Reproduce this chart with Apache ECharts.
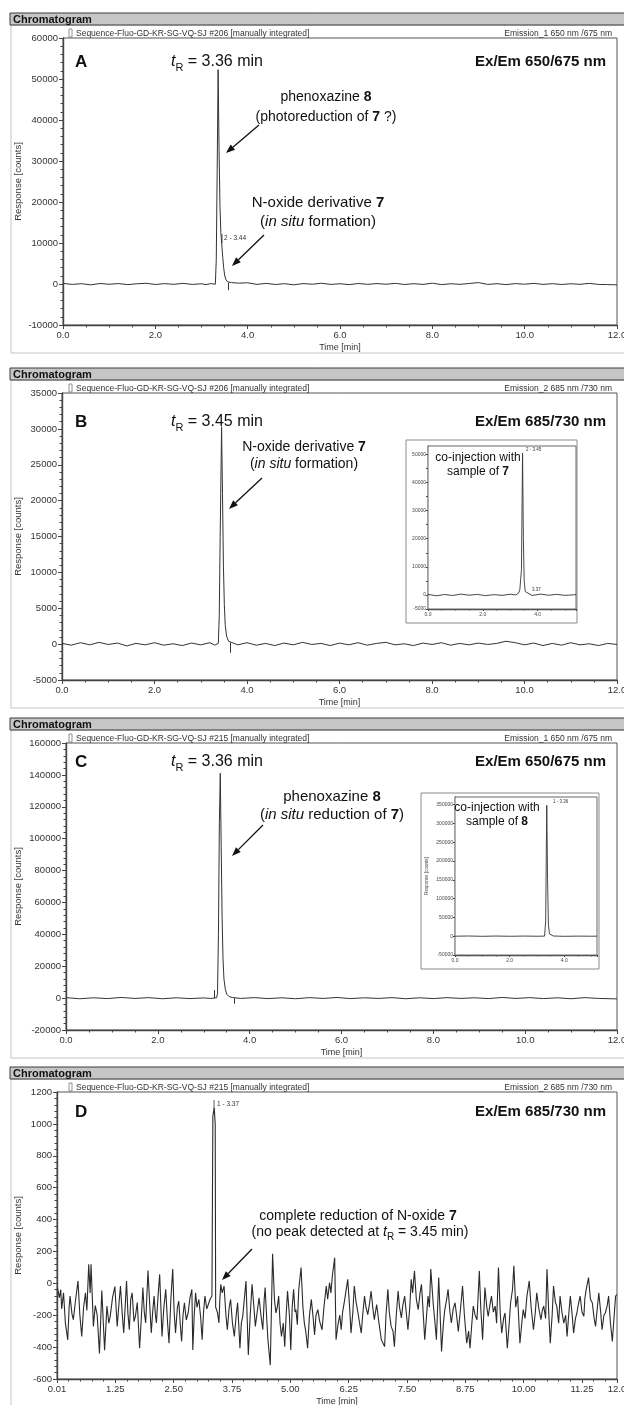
<!DOCTYPE html>
<html><head><meta charset="utf-8">
<script src="https://cdn.jsdelivr.net/npm/echarts@6/dist/echarts.min.js"></script>
<style>html,body{margin:0;padding:0;background:#fff}#c{width:624px;height:1405px}</style>
</head><body><div id="c"></div>
<script>
// ---------------- DATA ----------------
const panelLetters = ['A', 'B', 'C', 'D'];
const sequenceLabels = [
  'Sequence-Fluo-GD-KR-SG-VQ-SJ #206 [manually integrated]',
  'Sequence-Fluo-GD-KR-SG-VQ-SJ #206 [manually integrated]',
  'Sequence-Fluo-GD-KR-SG-VQ-SJ #215 [manually integrated]',
  'Sequence-Fluo-GD-KR-SG-VQ-SJ #215 [manually integrated]'
];
const emissionLabels = ['Emission_1 650 nm /675 nm', 'Emission_2 685 nm /730 nm', 'Emission_1 650 nm /675 nm', 'Emission_2 685 nm /730 nm'];
const exEmLabels = ['Ex/Em 650/675 nm', 'Ex/Em 685/730 nm', 'Ex/Em 650/675 nm', 'Ex/Em 685/730 nm'];
const retentionLabels = ['3.36', '3.45', '3.36', null];
const yMins = [-10000, -5000, -20000, -600];
const yMaxs = [60000, 35000, 160000, 1200];
const ySteps = [10000, 5000, 20000, 200];
const xStepsMain = [2, 2, 2, 1.25];

const seriesA = [[0,150],[0.2,-100],[0.4,80],[0.6,-200],[0.8,120],[1.0,-60],[1.2,100],[1.4,-150],[1.6,50],[1.8,180],[2.0,-120],[2.2,90],[2.4,-80],[2.6,150],[2.8,-100],[3.0,60],[3.1,-150],[3.2,100],[3.3,-50],[3.32,6000],[3.34,28000],[3.36,52300],[3.38,33000],[3.40,19000],[3.42,12500],[3.44,9500],[3.46,6500],[3.48,4000],[3.50,2200],[3.53,1000],[3.57,500],[3.65,350],[3.8,200],[4.0,300],[4.2,-100],[4.4,150],[4.6,-120],[4.8,80],[5.0,-200],[5.2,100],[5.4,-50],[5.6,180],[5.8,-100],[6.0,60],[6.2,-150],[6.4,120],[6.6,-80],[6.8,100],[7.0,-60],[7.2,150],[7.4,-120],[7.6,80],[7.8,-100],[8.0,200],[8.2,-150],[8.4,60],[8.6,-80],[8.8,120],[9.0,350],[9.2,-100],[9.4,80],[9.6,-150],[9.8,100],[10.0,-50],[10.2,150],[10.4,-100],[10.6,80],[10.8,-120],[11.0,60],[11.2,-80],[11.4,150],[11.6,-100],[11.8,-150],[12.0,-200]];

const seriesB = [[0,100],[0.2,-150],[0.4,200],[0.6,-100],[0.8,250],[1.0,-50],[1.2,150],[1.4,-250],[1.6,100],[1.8,-100],[2.0,200],[2.2,-150],[2.4,50],[2.6,-200],[2.8,150],[3.0,-100],[3.2,200],[3.3,-150],[3.38,100],[3.40,4000],[3.42,15000],[3.45,30300],[3.47,21000],[3.49,11000],[3.51,5500],[3.53,2600],[3.56,1100],[3.6,400],[3.7,150],[3.8,-100],[4.0,200],[4.2,-150],[4.4,100],[4.6,-200],[4.8,150],[5.0,-100],[5.2,250],[5.4,-50],[5.6,100],[5.8,-200],[6.0,150],[6.2,-100],[6.4,200],[6.6,-150],[6.8,100],[7.0,250],[7.2,-100],[7.4,50],[7.6,-200],[7.8,150],[8.0,-50],[8.2,200],[8.4,-150],[8.6,100],[8.8,-100],[9.0,150],[9.2,-50],[9.4,100],[9.6,400],[9.8,200],[10.0,-100],[10.2,150],[10.4,-200],[10.6,100],[10.8,-150],[11.0,200],[11.2,-100],[11.4,50],[11.6,-200],[11.8,100],[12.0,-50]];

const seriesC = [[0,300],[0.3,-400],[0.6,200],[0.9,-300],[1.2,400],[1.5,-200],[1.8,300],[2.1,-400],[2.4,200],[2.7,-300],[3.0,100],[3.15,-200],[3.28,200],[3.30,3000],[3.32,40000],[3.34,110000],[3.36,141000],[3.38,95000],[3.40,50000],[3.42,24000],[3.44,12000],[3.47,5500],[3.50,2500],[3.55,1000],[3.62,400],[3.8,-200],[4.1,300],[4.4,-300],[4.7,200],[5.0,-400],[5.3,300],[5.6,-200],[5.9,400],[6.2,-300],[6.5,200],[6.8,-200],[7.1,300],[7.4,-400],[7.7,200],[8.0,-300],[8.3,300],[8.6,-200],[8.9,200],[9.2,-300],[9.5,400],[9.8,-200],[10.1,300],[10.4,-300],[10.7,200],[11.0,-400],[11.3,300],[11.6,-200],[12.0,-500]];

const seriesD = [[0.01,-30],[0.05,-90],[0.08,-40],[0.10,-160],[0.14,-60],[0.18,-250],[0.23,-355],[0.26,-150],[0.28,-80],[0.32,-190],[0.35,-228],[0.40,-100],[0.45,15],[0.49,-200],[0.53,-333],[0.57,-150],[0.61,-59],[0.64,-170],[0.68,120],[0.71,-60],[0.73,120],[0.78,-270],[0.82,-140],[0.86,-196],[0.91,-440],[0.96,-45],[1.02,-420],[1.07,-143],[1.11,-250],[1.14,-207],[1.19,-90],[1.24,-20],[1.29,-270],[1.33,-120],[1.36,-17],[1.40,-200],[1.43,-312],[1.46,-150],[1.49,15],[1.52,-190],[1.55,-291],[1.58,-100],[1.61,-59],[1.65,-240],[1.68,-207],[1.72,-120],[1.77,-407],[1.81,-200],[1.84,-27],[1.87,-180],[1.90,-249],[1.95,80],[1.99,-150],[2.02,-312],[2.05,-180],[2.08,-80],[2.11,-200],[2.13,-249],[2.17,-60],[2.20,57],[2.25,-333],[2.29,-150],[2.33,-38],[2.37,-250],[2.40,-376],[2.44,-100],[2.48,89],[2.51,-180],[2.54,-312],[2.58,-150],[2.61,-112],[2.64,-250],[2.67,-365],[2.70,-200],[2.73,-122],[2.77,-230],[2.81,-186],[2.85,-90],[2.89,-38],[2.91,-418],[2.94,-200],[2.97,-59],[3.00,-150],[3.04,-101],[3.08,-220],[3.11,-354],[3.14,-180],[3.17,-80],[3.21,-160],[3.24,-154],[3.28,-100],[3.32,-80],[3.34,1050],[3.37,1100],[3.39,1000],[3.40,-150],[3.44,-185],[3.47,-249],[3.49,-100],[3.51,-6],[3.54,-60],[3.58,-17],[3.62,-200],[3.65,-291],[3.69,-150],[3.72,-101],[3.76,-250],[3.80,-333],[3.84,-200],[3.87,-122],[3.92,-407],[3.95,-250],[3.98,-207],[4.02,-80],[4.05,15],[4.10,-449],[4.14,-200],[4.18,-6],[4.22,-150],[4.25,-270],[4.29,-180],[4.33,-91],[4.37,-200],[4.41,-291],[4.44,-100],[4.46,-27],[4.49,-200],[4.52,-354],[4.57,-513],[4.62,185],[4.66,-100],[4.69,-186],[4.72,-150],[4.75,-80],[4.78,-250],[4.81,-333],[4.85,-250],[4.88,-397],[4.91,-200],[4.94,-48],[4.98,-200],[5.01,-418],[5.04,-150],[5.07,-38],[5.10,-180],[5.12,-165],[5.15,-260],[5.18,-40],[5.23,99],[5.27,-150],[5.30,-249],[5.33,-300],[5.37,-407],[5.41,-200],[5.45,-101],[5.49,-220],[5.52,-323],[5.55,-200],[5.59,-165],[5.63,-240],[5.68,-291],[5.72,-150],[5.77,-17],[5.80,-100],[5.84,4],[5.87,-60],[5.90,46],[5.95,160],[5.98,-354],[6.02,-260],[6.06,-200],[6.09,-291],[6.12,-180],[6.16,-112],[6.23,25],[6.27,-150],[6.30,-312],[6.34,-180],[6.37,-17],[6.41,-120],[6.45,-186],[6.49,-260],[6.52,-312],[6.55,-200],[6.59,-80],[6.62,-150],[6.66,-196],[6.70,-120],[6.73,-48],[6.77,-160],[6.80,-228],[6.85,-133],[6.90,-250],[6.95,-354],[7.02,-397],[7.05,-200],[7.09,-38],[7.12,-180],[7.16,-270],[7.20,-300],[7.23,-397],[7.27,-200],[7.31,-48],[7.34,-150],[7.38,-217],[7.41,-140],[7.45,-80],[7.49,-200],[7.52,-291],[7.56,-150],[7.59,25],[7.62,-60],[7.66,78],[7.70,-100],[7.74,-165],[7.78,-60],[7.81,-6],[7.85,-200],[7.88,-354],[7.92,-200],[7.95,-80],[7.98,-150],[8.01,89],[8.06,-122],[8.10,-250],[8.13,-354],[8.18,36],[8.24,-428],[8.28,-250],[8.31,-165],[8.35,-100],[8.38,-38],[8.42,-180],[8.45,-249],[8.49,-160],[8.53,-122],[8.57,-220],[8.60,-302],[8.65,-150],[8.69,-17],[8.73,-200],[8.78,-376],[8.82,-300],[8.85,-407],[8.89,-250],[8.92,-143],[8.96,-200],[9.00,-228],[9.05,78],[9.08,-150],[9.12,-354],[9.17,-27],[9.21,-150],[9.24,-207],[9.28,-130],[9.31,-80],[9.35,-180],[9.39,-143],[9.42,-250],[9.46,99],[9.50,-200],[9.53,-312],[9.57,-220],[9.60,-186],[9.65,-407],[9.69,-250],[9.72,-122],[9.76,-40],[9.79,110],[9.83,-150],[9.87,-80],[9.92,-376],[9.96,-250],[9.99,-165],[10.03,-220],[10.07,-80],[10.12,15],[10.16,-150],[10.21,-291],[10.25,-180],[10.28,-59],[10.32,-150],[10.37,-228],[10.40,-170],[10.43,-143],[10.47,-220],[10.50,89],[10.54,-200],[10.57,-376],[10.61,-200],[10.64,-17],[10.68,-120],[10.71,-143],[10.75,-250],[10.78,-80],[10.82,-180],[10.86,-249],[10.90,-200],[10.93,-333],[10.97,-180],[11.00,-80],[11.04,-200],[11.07,-312],[11.11,-220],[11.14,-186],[11.18,-120],[11.21,-80],[11.25,-180],[11.29,-207],[11.31,-100],[11.34,-38],[11.39,36],[11.43,-100],[11.47,-122],[11.51,-220],[11.54,-270],[11.58,-150],[11.61,-59],[11.65,-180],[11.68,-291],[11.72,-200],[11.75,-186],[11.79,-140],[11.82,-80],[11.86,-250],[11.90,-365],[11.94,-200],[11.97,-80],[12.00,-70]];

const insetB = [[0,200],[0.3,-300],[0.6,150],[0.9,-200],[1.2,300],[1.5,-100],[1.8,200],[2.1,-250],[2.4,100],[2.7,-150],[3.0,250],[3.2,0],[3.3,600],[3.35,1800],[3.38,1500],[3.41,9000],[3.45,50500],[3.48,20000],[3.51,5000],[3.55,1200],[3.6,500],[3.8,-200],[4.1,300],[4.4,-100],[4.7,200],[5.0,-150],[5.4,100]];
const insetC = [[0,0],[0.5,500],[1.0,-300],[1.5,400],[2.0,-200],[2.5,300],[3.0,-100],[3.28,200],[3.32,40000],[3.36,348000],[3.39,150000],[3.42,30000],[3.46,6000],[3.52,1500],[3.6,500],[4.0,-300],[4.5,200],[5.0,-100],[5.2,100]];

// integration markers: [time, from, to]
const markersA = [[3.59, 300, -1500]];
const markersB = [[3.64, 200, -1200]];
const markersC = [[3.22, 0, 5000], [3.66, 0, -3500]];
const markersD = [];

// ---------------- LAYOUT ----------------
const F = '"Liberation Sans", Arial, Helvetica, sans-serif';
const panelTops = [13, 368, 718, 1067];
const plotLefts = [63, 62, 66, 57];
const plotRight = 617;

const mainData = [seriesA, seriesB, seriesC, seriesD];
const mainMarkers = [markersA, markersB, markersC, markersD];

const grids = [], xAxes = [], yAxes = [], series = [];

function axisStyle(size) {
  return {
    axisLine: {show: true, onZero: false, lineStyle: {color: '#444', width: 1.4}},
    axisTick: {show: true, length: size > 6 ? 4 : 2, lineStyle: {color: '#444', width: 1}},
    splitLine: {show: false}
  };
}

for (let i = 0; i < 4; i++) {
  const T = panelTops[i];
  grids.push({left: plotLefts[i], top: T + 25, width: plotRight - plotLefts[i], height: 287,
    outerBoundsMode: 'none', containLabel: false,
    show: true, borderColor: '#555', borderWidth: 1, backgroundColor: 'transparent'});
  const isD = i === 3;
  xAxes.push(Object.assign({
    gridIndex: i, type: 'value', min: 0, max: 12, interval: xStepsMain[i],
    minorTick: {show: true, splitNumber: isD ? 5 : 4, length: 2.5, lineStyle: {color: '#444'}},
    axisLabel: {fontSize: 9.5, color: '#333', fontFamily: F, margin: 5, hideOverlap: false,
      formatter: v => isD ? (v === 0 ? '0.01' : (v === 12 ? '12.0' : v.toFixed(2))) : v.toFixed(1)},
    name: 'Time [min]', nameLocation: 'middle', nameGap: 18, nameMoveOverlap: false,
    nameTextStyle: {fontSize: 9, color: '#333', fontFamily: F}
  }, axisStyle(9)));
  yAxes.push(Object.assign({
    gridIndex: i, type: 'value', min: yMins[i], max: yMaxs[i], interval: ySteps[i],
    minorTick: {show: true, splitNumber: 5, length: 2.5, lineStyle: {color: '#444'}},
    axisLabel: {fontSize: 9.5, color: '#333', fontFamily: F, margin: 5, formatter: v => String(v)},
    name: 'Response [counts]', nameLocation: 'middle', nameGap: plotLefts[i] - 23, nameMoveOverlap: false,
    nameTextStyle: {fontSize: 9.5, color: '#333', fontFamily: F}
  }, axisStyle(9)));
  series.push({
    type: 'line', xAxisIndex: i, yAxisIndex: i, data: mainData[i], symbol: 'none',
    lineStyle: {color: isD ? '#2a2a2a' : '#333', width: isD ? 1.1 : 1}, z: 3, clip: true,
    markLine: {silent: true, symbol: 'none', label: {show: false},
      lineStyle: {color: '#333', width: 1, type: 'solid'},
      data: mainMarkers[i].map(m => [{coord: [m[0], m[1]]}, {coord: [m[0], m[2]]}])}
  });
}

// insets
const insetDefs = [
  {data: insetB, left: 428, top: 446, width: 148, height: 163, xMax: 5.4, yMin: -5000, yMax: 53000, yStep: 5000,
   fmt: v => (v === -5000 || v % 10000 === 0) ? String(v) : '', yName: ''},
  {data: insetC, left: 455, top: 797, width: 142, height: 158, xMax: 5.2, yMin: -50000, yMax: 370000, yStep: 50000,
   fmt: v => String(v), yName: 'Response [counts]'}
];
insetDefs.forEach((d, k) => {
  const gi = 4 + k;
  grids.push({left: d.left, top: d.top, width: d.width, height: d.height, show: true,
    outerBoundsMode: 'none', containLabel: false,
    borderColor: '#666', borderWidth: 1, backgroundColor: '#fff', z: 1});
  xAxes.push(Object.assign({
    gridIndex: gi, type: 'value', min: 0, max: d.xMax, interval: 2,
    minorTick: {show: true, splitNumber: 4, length: 1.5, lineStyle: {color: '#555'}},
    axisLabel: {fontSize: 5, color: '#444', fontFamily: F, margin: 3, showMaxLabel: false, formatter: v => v.toFixed(1)}
  }, axisStyle(5)));
  yAxes.push(Object.assign({
    gridIndex: gi, type: 'value', min: d.yMin, max: d.yMax, interval: d.yStep,
    minorTick: {show: false},
    axisLabel: {fontSize: 5, color: '#444', fontFamily: F, margin: 2, showMaxLabel: false, formatter: d.fmt},
    name: d.yName, nameLocation: 'middle', nameGap: 26, nameMoveOverlap: false,
    nameTextStyle: {fontSize: 4.5, color: '#444', fontFamily: F}
  }, axisStyle(5)));
  series.push({type: 'line', xAxisIndex: gi, yAxisIndex: gi, data: d.data, symbol: 'none',
    lineStyle: {color: '#333', width: 0.9}, z: 5, clip: true});
});

// ---------------- GRAPHIC ----------------
const G = [];
function text(x, y, str, o) {
  o = o || {};
  const al = o.align || 'left';
  const st = Object.assign({text: str, fill: '#111', fontFamily: F, fontSize: 14,
    align: al, textAlign: al, verticalAlign: 'middle', textVerticalAlign: 'middle'}, o);
  G.push({type: 'text', x: x, y: y, z: 100, silent: true, style: st});
}
function arrow(x1, y1, x2, y2) {
  const a = Math.atan2(y2 - y1, x2 - x1), L = 9, W = 3.4;
  const bx = x2 - L * Math.cos(a), by = y2 - L * Math.sin(a);
  const px = -Math.sin(a) * W, py = Math.cos(a) * W;
  G.push({type: 'line', z: 100, silent: true, shape: {x1: x1, y1: y1, x2: bx, y2: by}, style: {stroke: '#111', lineWidth: 1.3}});
  G.push({type: 'polygon', z: 100, silent: true, shape: {points: [[x2, y2], [bx + px, by + py], [bx - px, by - py]]}, style: {fill: '#111'}});
}
function vline(x, y1, y2) {
  G.push({type: 'line', z: 100, silent: true, shape: {x1: x, y1: y1, x2: x, y2: y2}, style: {stroke: '#333', lineWidth: 0.8}});
}
function richSet(size) {
  return {
    n: {fontFamily: F, fontSize: size, fill: '#111', verticalAlign: 'middle', lineHeight: size + 6},
    b: {fontFamily: F, fontSize: size, fill: '#111', fontWeight: 'bold', verticalAlign: 'middle', lineHeight: size + 6},
    i: {fontFamily: F, fontSize: size, fill: '#111', fontStyle: 'italic', verticalAlign: 'middle', lineHeight: size + 6},
    s: {fontFamily: F, fontSize: Math.round(size * 0.7), fill: '#111', verticalAlign: 'bottom'}
  };
}
const rich14 = richSet(14), rich15 = richSet(15), richBig = richSet(16);

const annotY = [62, 422, 762, 1112];
for (let i = 0; i < 4; i++) {
  const T = panelTops[i];
  G.push({type: 'rect', z: -10, silent: true, shape: {x: 11, y: T + 12, width: 640, height: 328},
    style: {fill: '#fff', stroke: '#c4c4c4', lineWidth: 1}});
  G.push({type: 'rect', z: -9, silent: true, shape: {x: 10, y: T, width: 640, height: 12},
    style: {fill: '#c6c6c6', stroke: '#3a3a3a', lineWidth: 1}});
  text(13, T + 6.5, 'Chromatogram', {fontSize: 11, fontWeight: 'bold', fill: '#111'});
  G.push({type: 'rect', z: 100, silent: true, shape: {x: 69, y: T + 16, width: 3, height: 8},
    style: {fill: '#fff', stroke: '#777', lineWidth: 0.8}});
  text(76, T + 20.5, sequenceLabels[i], {fontSize: 8.5, fill: '#333'});
  text(612, T + 20.5, emissionLabels[i], {fontSize: 8.5, fill: '#333', align: 'right'});
  text(75, annotY[i], panelLetters[i], {fontSize: 17, fontWeight: 'bold'});
  text(606, annotY[i], exEmLabels[i], {fontSize: 15, fontWeight: 'bold', align: 'right'});
  if (retentionLabels[i]) {
    text(171, annotY[i], '{i|t}{s|R}{n| = ' + retentionLabels[i] + ' min}', {rich: richBig, fontSize: 16});
  }
}

// Panel A annotations
text(326, 97, '{n|phenoxazine }{b|8}', {rich: rich14, align: 'center'});
text(326, 117, '{n|(photoreduction of }{b|7}{n| ?)}', {rich: rich14, align: 'center'});
arrow(259, 125, 226, 153);
text(318, 203, '{n|N-oxide derivative }{b|7}', {rich: rich15, align: 'center'});
text(318, 222, '{n|(}{i|in situ}{n| formation)}', {rich: rich15, align: 'center'});
arrow(264, 235, 232, 266);
vline(222, 234, 243);
text(224, 238, '2 - 3.44', {fontSize: 6.5, fill: '#333'});

// Panel B annotations
text(304, 447, '{n|N-oxide derivative }{b|7}', {rich: rich14, align: 'center'});
text(304, 464, '{n|(}{i|in situ}{n| formation)}', {rich: rich14, align: 'center'});
arrow(262, 478, 229, 509);
G.push({type: 'rect', z: -5, silent: true, shape: {x: 406, y: 440, width: 171, height: 183}, style: {fill: '#fff', stroke: '#8a8a8a', lineWidth: 1}});
text(478, 458, 'co-injection with', {fontSize: 12, align: 'center'});
text(478, 472, '{n|sample of }{b|7}', {rich: {n: {fontFamily: F, fontSize: 12, fill: '#111'}, b: {fontFamily: F, fontSize: 12, fontWeight: 'bold', fill: '#111'}}, align: 'center'});
text(526, 450, '2 - 3.45', {fontSize: 4.5, fill: '#333'});
text(532, 590, '3.37', {fontSize: 4.5, fill: '#333'});

// Panel C annotations
text(332, 797, '{n|phenoxazine }{b|8}', {rich: rich15, align: 'center'});
text(332, 815, '{n|(}{i|in situ}{n| reduction of }{b|7}{n|)}', {rich: rich15, align: 'center'});
arrow(263, 825, 232, 856);
G.push({type: 'rect', z: -5, silent: true, shape: {x: 421, y: 793, width: 178, height: 176}, style: {fill: '#fff', stroke: '#8a8a8a', lineWidth: 1}});
text(497, 808, 'co-injection with', {fontSize: 12, align: 'center'});
text(497, 822, '{n|sample of }{b|8}', {rich: {n: {fontFamily: F, fontSize: 12, fill: '#111'}, b: {fontFamily: F, fontSize: 12, fontWeight: 'bold', fill: '#111'}}, align: 'center'});
text(553, 802, '1 - 3.36', {fontSize: 4.5, fill: '#333'});

// Panel D annotations
vline(214, 1100, 1109);
text(217, 1104, '1 - 3.37', {fontSize: 6.5, fill: '#333'});
text(358, 1216, '{n|complete reduction of N-oxide }{b|7}', {rich: rich14, align: 'center'});
text(360, 1232, '{n|(no peak detected at }{i|t}{s|R}{n| = 3.45 min)}', {rich: rich14, align: 'center'});
arrow(252, 1249, 222, 1280);

const chart = echarts.init(document.getElementById('c'), null, {renderer: 'canvas'});
chart.setOption({
  animation: false,
  backgroundColor: '#fff',
  grid: grids, xAxis: xAxes, yAxis: yAxes, series: series,
  graphic: {elements: G}
});
</script></body></html>
